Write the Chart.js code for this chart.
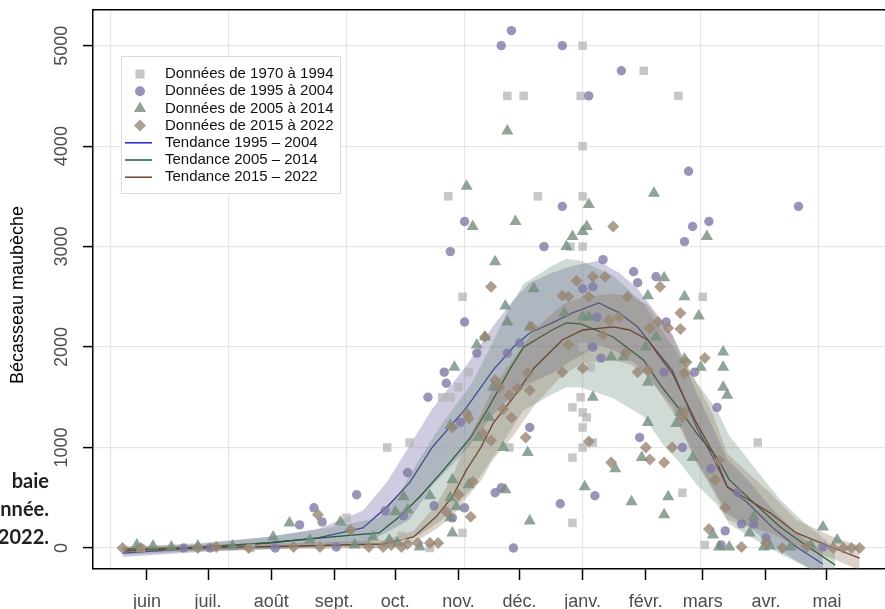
<!DOCTYPE html>
<html lang="fr">
<head>
<meta charset="utf-8">
<title>Bécasseau maubèche</title>
<script src="https://cdn.jsdelivr.net/npm/chart.js"></script>
<style>
  html, body { margin: 0; padding: 0; background: #fff; }
  body { width: 885px; height: 609px; overflow: hidden; position: relative; }
  #chart { position: absolute; left: 0; top: 0; }
  .caption {
    position: absolute; right: 836px; top: 466px;
    font: bold 20px Lato, "Open Sans", sans-serif; line-height: 28px;
    color: #231f20; text-align: right; white-space: nowrap;
  }
</style>
</head>
<body>
<canvas id="chart" width="940" height="609"></canvas>
<div class="caption">baie<br>nnée.<br>2022.</div>
<script>
// days counted from June 1st
const monthDays = [0, 30, 61, 92, 122, 153, 183, 214, 245, 273, 304, 334];
const monthLabels = ["juin", "juil.", "août", "sept.", "oct.", "nov.", "déc.", "janv.", "févr.", "mars", "avr.", "mai"];
const gridDays = [-18, 40, 98, 156, 214, 272, 330, 388];
const yTicks = [0, 1000, 2000, 3000, 4000, 5000];
const yTitle = "Bécasseau maubèche";

const legendLabels = [
  "Données de 1970 à 1994", "Données de 1995 à 2004", "Données de 2005 à 2014", "Données de 2015 à 2022",
  "Tendance 1995 – 2004", "Tendance 2005 – 2014", "Tendance 2015 – 2022"
];

// [day, count]
const pts1970 = [[214,5000],[177,4500],[185,4500],[213,4500],[244,4750],[261,4500],[214,4000],[148,3500],[192,3500],
  [214,3500],[214,3000],[208,3000],[155,2500],[273,2500],[214,2000],[158,1750],[218,1800],[153,1600],[145,1500],
  [149,1500],[213,1500],[209,1400],[214,1350],[216,1300],[214,1200],[151,1100],[129,1050],[219,1050],[300,1050],
  [118,1000],[148,1000],[178,1000],[214,1000],[209,900],[263,550],[98,300],[209,250],[155,150],[274,30],[125,120],
  [85,30],[-3,0],[51,0],[139,0]];

const pts1995 = [[179,5150],[174,5000],[204,5000],[233,4750],[217,4500],[266,3750],[320,3400],[268,3200],[276,3250],
  [264,3050],[204,3400],[156,3250],[149,2950],[195,3000],[224,2870],[239,2750],[241,2640],[250,2700],[214,2580],
  [219,2600],[156,2250],[162,1940],[146,1750],[147,1640],[177,1940],[183,2040],[221,2300],[219,2000],[223,1890],
  [255,2250],[254,1750],[269,1750],[138,1500],[154,1250],[128,750],[117,370],[126,320],[141,420],[156,400],[150,300],
  [174,600],[171,550],[188,1200],[203,440],[180,0],[220,520],[242,1100],[263,1000],[280,1400],[277,790],[290,550],
  [292,240],[298,240],[284,170],[282,30],[304,100],[332,10],[18,0],[31,0],[63,0],[75,230],[82,400],[86,260],
  [103,530],[93,10]];

const pts2005 = [[177,4150],[157,3600],[160,3200],[181,3250],[217,3420],[249,3530],[216,3200],[214,3150],[209,3100],
  [206,3000],[275,3100],[264,2500],[171,2850],[190,2580],[176,2410],[177,2250],[188,2200],[166,2100],[162,2020],
  [151,1800],[205,2340],[214,2300],[217,2300],[228,1900],[234,1900],[254,2690],[246,2510],[271,2310],[245,2000],
  [250,2100],[283,1950],[283,1800],[272,1800],[264,1880],[170,1600],[168,1300],[149,1220],[163,1100],[175,1000],
  [187,950],[219,1500],[150,680],[158,630],[139,520],[176,580],[215,610],[149,500],[152,410],[122,360],[126,510],
  [188,270],[238,460],[149,300],[150,150],[123,50],[119,80],[134,10],[246,1650],[283,1600],[285,1520],[262,1350],
  [246,1250],[260,1240],[268,900],[243,900],[256,510],[254,330],[278,130],[296,150],[298,310],[332,210],[339,80],
  [286,10],[303,10],[230,790],[70,250],[95,260],[62,110],[128,380],[-5,30],[3,20],[12,10],[25,20],[42,20],[111,110],
  [281,10],[80,80],[102,30],[306,20],[316,10],[326,30]];

const pts2015 = [[229,3200],[169,2600],[211,2660],[219,2700],[225,2700],[204,2510],[207,2500],[217,2500],[236,2500],
  [189,2200],[166,2100],[207,2020],[227,2270],[232,2300],[224,2120],[235,1940],[214,1790],[204,1750],[187,1740],
  [252,2600],[262,2340],[262,2180],[247,2190],[251,2250],[256,2190],[274,1890],[265,1850],[241,1750],[246,1770],
  [171,1670],[173,1600],[182,1590],[188,1570],[178,1520],[175,1380],[179,1300],[157,1340],[158,1290],[150,1200],
  [165,1140],[169,1070],[186,1100],[217,1060],[228,850],[160,660],[153,530],[159,310],[139,50],[133,50],[143,50],
  [116,10],[264,1740],[263,1300],[264,1350],[245,1000],[258,1000],[247,880],[254,850],[281,870],[279,680],[284,400],
  [276,190],[292,10],[304,50],[312,0],[324,10],[337,0],[342,0],[346,0],[350,0],[-12,0],[-3,0],[25,0],[34,10],[50,0],
  [84,330],[100,180],[109,10],[147,360],[85,10],[72,10],[120,30],[125,10],[128,40]];

// trends with their bands
const days1995 = [-12, 26, 59, 84, 106, 118, 129, 140, 157, 170, 180, 188, 199, 209, 222, 229, 232, 241, 250, 258, 270, 278, 285, 295, 307, 319, 332];
const trend1995 = [-50, 0, 50, 100, 200, 410, 650, 1000, 1400, 1770, 2000, 2140, 2240, 2340, 2440, 2370, 2340, 2200, 1970, 1770, 1200, 900, 610, 450, 210, 10, -160];
const low1995 = [-90, -40, -10, 10, 30, 160, 280, 620, 980, 1330, 1530, 1640, 1740, 1870, 2020, 1970, 1940, 1820, 1600, 1410, 860, 600, 340, 220, 30, -130, -280];
const high1995 = [-10, 40, 110, 190, 370, 660, 1020, 1380, 1820, 2210, 2470, 2640, 2740, 2810, 2860, 2770, 2740, 2580, 2340, 2130, 1540, 1200, 880, 680, 390, 150, -40];

const days2005 = [-11, 26, 59, 91, 114, 124, 134, 145, 159, 167, 178, 185, 199, 206, 213, 229, 244, 253, 262, 270, 280, 286, 298, 311, 322, 338];
const trend2005 = [-30, 10, 50, 110, 150, 310, 510, 760, 1100, 1370, 1770, 2000, 2170, 2240, 2230, 2100, 1870, 1600, 1370, 1140, 900, 680, 450, 210, 50, -170];
const low2005 = [-70, -30, -10, 10, 0, 80, 130, 280, 580, 810, 1150, 1370, 1530, 1600, 1600, 1490, 1310, 1040, 840, 630, 430, 240, 90, -60, -170, -340];
const high2005 = [10, 50, 110, 210, 300, 540, 890, 1240, 1620, 1930, 2390, 2630, 2810, 2880, 2860, 2710, 2430, 2160, 1900, 1650, 1370, 1120, 810, 480, 270, 0];

const days2015 = [-12, 26, 75, 116, 131, 142, 150, 157, 164, 170, 180, 190, 204, 214, 229, 237, 246, 252, 258, 270, 278, 285, 293, 306, 319, 336, 350];
const trend2015 = [-10, 0, 20, 40, 110, 310, 510, 780, 1000, 1240, 1500, 1790, 2070, 2170, 2200, 2170, 2070, 1900, 1740, 1240, 950, 610, 510, 350, 150, 10, -100];
const low2015 = [-40, -30, -10, 0, 50, 190, 310, 500, 670, 880, 1120, 1410, 1720, 1840, 1870, 1830, 1720, 1540, 1360, 840, 570, 280, 230, 150, 20, -100, -220];
const high2015 = [20, 30, 50, 80, 170, 430, 710, 1060, 1330, 1600, 1880, 2170, 2420, 2500, 2530, 2510, 2420, 2260, 2120, 1640, 1330, 940, 790, 550, 280, 120, 20];

const colors = {
  sq: "rgba(180,180,180,0.75)",
  ci: "rgba(129,121,166,0.8)",
  tr: "rgba(115,142,125,0.8)",
  di: "rgba(152,134,115,0.8)",
  line1995: "#34349a", line2005: "#235b32", line2015: "#6b4630",
  band1995: "rgba(118,106,166,0.35)", band2005: "rgba(98,135,115,0.3)", band2015: "rgba(138,112,85,0.3)"
};
const legendLineColors = ["#2323c0", "#1f5f2a", "#6b4630"];

function xy(days, vals) {
  return days.map((d, i) => ({ x: d, y: vals[i] }));
}

function pointSet(label, pts, style, color, radius) {
  return {
    type: "scatter", label: label, data: pts.map(p => ({ x: p[0], y: p[1] })),
    pointStyle: style, pointRadius: radius, pointBackgroundColor: color,
    pointBorderWidth: 0, order: 0
  };
}

function lineSet(days, vals, color, order) {
  return {
    type: "line", data: xy(days, vals), borderColor: color, borderWidth: 1.3,
    pointRadius: 0, fill: false, tension: 0, order: order
  };
}

function bandSet(days, vals, color, isLower, order) {
  return {
    type: "line", data: xy(days, vals), borderWidth: 0, borderColor: "rgba(0,0,0,0)",
    pointRadius: 0, tension: 0, backgroundColor: color,
    fill: isLower ? "-1" : false, order: order
  };
}

const X_MIN = -26.5, X_MAX = 389.5, Y_MIN = -209, Y_MAX = 5355;
const tickFont = { family: "Liberation Sans", size: 18 };

// rotated y tick labels and axis title
const yLabelsPlugin = {
  id: "yLabels",
  afterDraw(chart) {
    const ctx = chart.ctx;
    const y = chart.scales.y;
    ctx.save();
    ctx.fillStyle = "#4d4d4d";
    ctx.font = "18px 'Liberation Sans'";
    ctx.textAlign = "center";
    ctx.textBaseline = "middle";
    yTicks.forEach(v => {
      ctx.save();
      ctx.translate(62, y.getPixelForValue(v));
      ctx.rotate(-Math.PI / 2);
      ctx.fillText(String(v), 0, 0);
      ctx.restore();
    });
    ctx.fillStyle = "#000";
    ctx.translate(18, 295);
    ctx.rotate(-Math.PI / 2);
    ctx.fillText(yTitle, 0, 0);
    ctx.restore();
  }
};

const insetLegend = {
  id: "insetLegend",
  afterDraw(chart) {
    const ctx = chart.ctx;
    ctx.save();
    ctx.fillStyle = "#fff";
    ctx.fillRect(121, 56, 219, 137);
    ctx.strokeStyle = "#dcdcdc";
    ctx.lineWidth = 1;
    ctx.strokeRect(121.5, 56.5, 219, 137);

    legendLabels.forEach((text, i) => {
      const cy = 74 + i * 17.2;
      const cx = 140;
      ctx.beginPath();
      if (i === 0) {
        ctx.fillStyle = colors.sq;
        ctx.fillRect(cx - 4.5, cy - 4.5, 9, 9);
      } else if (i === 1) {
        ctx.fillStyle = colors.ci;
        ctx.arc(cx, cy, 5, 0, Math.PI * 2);
        ctx.fill();
      } else if (i === 2) {
        ctx.fillStyle = colors.tr;
        ctx.moveTo(cx, cy - 7);
        ctx.lineTo(cx + 6.1, cy + 3.5);
        ctx.lineTo(cx - 6.1, cy + 3.5);
        ctx.closePath();
        ctx.fill();
      } else if (i === 3) {
        ctx.fillStyle = colors.di;
        ctx.moveTo(cx, cy - 6);
        ctx.lineTo(cx + 6, cy);
        ctx.lineTo(cx, cy + 6);
        ctx.lineTo(cx - 6, cy);
        ctx.closePath();
        ctx.fill();
      } else {
        ctx.strokeStyle = legendLineColors[i - 4];
        ctx.lineWidth = 1.5;
        ctx.moveTo(125, cy);
        ctx.lineTo(152, cy);
        ctx.stroke();
      }
      ctx.fillStyle = "#111";
      ctx.font = "15px 'Liberation Sans'";
      ctx.textAlign = "left";
      ctx.textBaseline = "middle";
      ctx.fillText(text, 165, cy);
    });
    ctx.restore();
  }
};

new Chart(document.getElementById("chart"), {
  type: "scatter",
  data: {
    datasets: [
      pointSet(legendLabels[3], pts2015, "rectRot", colors.di, 6),
      pointSet(legendLabels[2], pts2005, "triangle", colors.tr, 7),
      pointSet(legendLabels[1], pts1995, "circle", colors.ci, 4.7),
      pointSet(legendLabels[0], pts1970, "rect", colors.sq, 6),
      lineSet(days2015, trend2015, colors.line2015, 1),
      bandSet(days2015, high2015, colors.band2015, false, 2),
      bandSet(days2015, low2015, colors.band2015, true, 2),
      lineSet(days2005, trend2005, colors.line2005, 3),
      bandSet(days2005, high2005, colors.band2005, false, 4),
      bandSet(days2005, low2005, colors.band2005, true, 4),
      lineSet(days1995, trend1995, colors.line1995, 5),
      bandSet(days1995, high1995, colors.band1995, false, 6),
      bandSet(days1995, low1995, colors.band1995, true, 6)
    ]
  },
  options: {
    responsive: false,
    animation: false,
    events: [],
    layout: { padding: { top: 10, left: 0, right: 0, bottom: 0 }, autoPadding: false },
    plugins: { legend: { display: false }, tooltip: { enabled: false } },
    scales: {
      x: {
        type: "linear", position: "bottom", min: X_MIN, max: X_MAX,
        afterBuildTicks: s => { s.ticks = monthDays.map(v => ({ value: v })); },
        afterFit: s => { s.height = 40; },
        ticks: {
          autoSkip: false, maxRotation: 0, minRotation: 0, padding: 11,
          color: "#4d4d4d", font: tickFont,
          callback: (v, i) => monthLabels[i]
        },
        grid: { drawOnChartArea: false, drawTicks: true, tickLength: 11, tickColor: "#000", tickWidth: 1.5 },
        border: { display: true, color: "#000", width: 1.5 }
      },
      xg: {
        type: "linear", position: "top", min: X_MIN, max: X_MAX,
        afterBuildTicks: s => { s.ticks = gridDays.map(v => ({ value: v })); },
        afterFit: s => { s.height = 0; },
        ticks: { display: false },
        grid: { color: "#e6e6e6", lineWidth: 1.2, drawTicks: false },
        border: { display: true, color: "#000", width: 1.5 }
      },
      y: {
        type: "linear", position: "left", min: Y_MIN, max: Y_MAX,
        afterBuildTicks: s => { s.ticks = yTicks.map(v => ({ value: v })); },
        afterFit: s => { s.width = 93; },
        ticks: { display: false },
        grid: { color: "#e6e6e6", lineWidth: 1.2, drawTicks: true, tickLength: 10, tickColor: "#000", tickWidth: 1.5 },
        border: { display: true, color: "#000", width: 1.5 }
      }
    }
  },
  plugins: [yLabelsPlugin, insetLegend]
});
</script>
</body>
</html>
